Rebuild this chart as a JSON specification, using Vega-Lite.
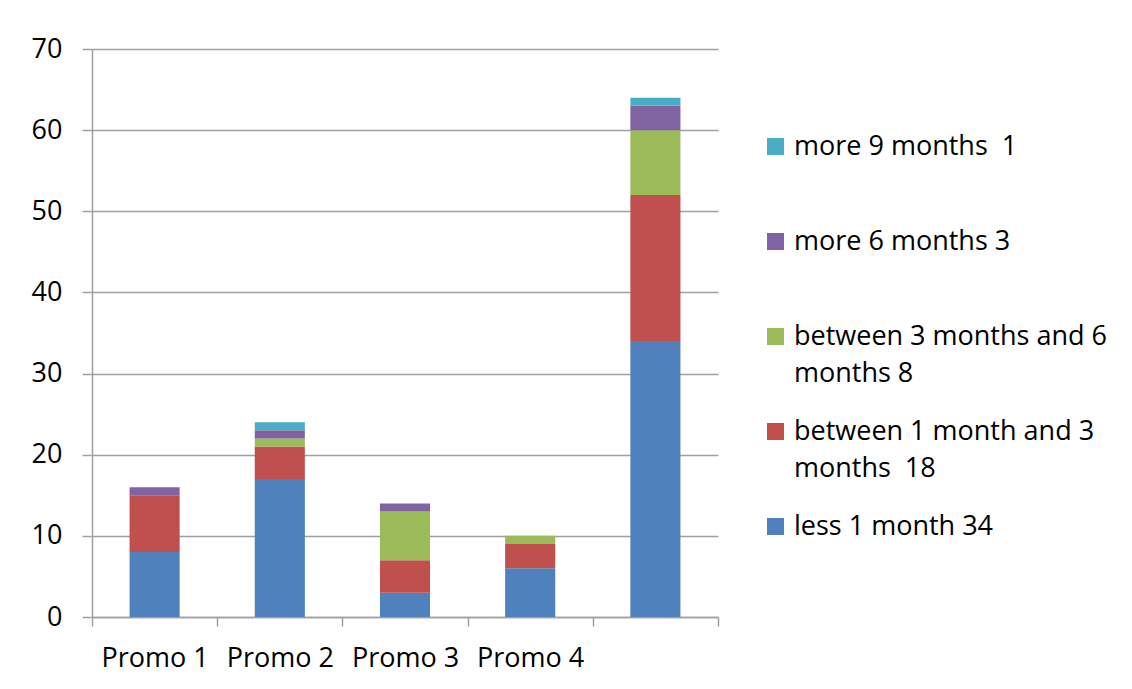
{
  "$schema": "https://vega.github.io/schema/vega-lite/v6.json",
  "autosize": {"type": "none"},
  "padding": {"left": 92, "top": 49, "right": 414, "bottom": 72},
  "width": 626,
  "height": 568,
  "background": "white",
  "config": {
    "font": "Open Sans",
    "view": {"stroke": null},
    "axis": {"labelFont": "Open Sans", "labelColor": "#000000", "labelFontSize": 27}
  },
  "data": {
    "values": [
      {"promo": "Promo 1", "series": "less 1 month 34", "value": 8},
      {"promo": "Promo 1", "series": "between 1 month and 3 months  18", "value": 7},
      {"promo": "Promo 1", "series": "between 3 months and 6 months 8", "value": 0},
      {"promo": "Promo 1", "series": "more 6 months 3", "value": 1},
      {"promo": "Promo 1", "series": "more 9 months  1", "value": 0},
      {"promo": "Promo 2", "series": "less 1 month 34", "value": 17},
      {"promo": "Promo 2", "series": "between 1 month and 3 months  18", "value": 4},
      {"promo": "Promo 2", "series": "between 3 months and 6 months 8", "value": 1},
      {"promo": "Promo 2", "series": "more 6 months 3", "value": 1},
      {"promo": "Promo 2", "series": "more 9 months  1", "value": 1},
      {"promo": "Promo 3", "series": "less 1 month 34", "value": 3},
      {"promo": "Promo 3", "series": "between 1 month and 3 months  18", "value": 4},
      {"promo": "Promo 3", "series": "between 3 months and 6 months 8", "value": 6},
      {"promo": "Promo 3", "series": "more 6 months 3", "value": 1},
      {"promo": "Promo 3", "series": "more 9 months  1", "value": 0},
      {"promo": "Promo 4", "series": "less 1 month 34", "value": 6},
      {"promo": "Promo 4", "series": "between 1 month and 3 months  18", "value": 3},
      {"promo": "Promo 4", "series": "between 3 months and 6 months 8", "value": 1},
      {"promo": "Promo 4", "series": "more 6 months 3", "value": 0},
      {"promo": "Promo 4", "series": "more 9 months  1", "value": 0},
      {"promo": "Total", "series": "less 1 month 34", "value": 34},
      {"promo": "Total", "series": "between 1 month and 3 months  18", "value": 18},
      {"promo": "Total", "series": "between 3 months and 6 months 8", "value": 8},
      {"promo": "Total", "series": "more 6 months 3", "value": 3},
      {"promo": "Total", "series": "more 9 months  1", "value": 1}
    ]
  },
  "transform": [
    {"calculate": "indexof(['less 1 month 34', 'between 1 month and 3 months  18', 'between 3 months and 6 months 8', 'more 6 months 3', 'more 9 months  1'], datum.series)", "as": "stackOrder"}
  ],
  "mark": {"type": "bar", "width": {"band": 0.4}},
  "encoding": {
    "x": {
      "field": "promo",
      "type": "nominal",
      "sort": ["Promo 1", "Promo 2", "Promo 3", "Promo 4", "Total"],
      "scale": {"paddingInner": 0, "paddingOuter": 0},
      "axis": {
        "title": null,
        "labelAngle": 0,
        "labelExpr": "datum.value == 'Total' ? '' : datum.value",
        "domainColor": "#a0a0a0",
        "domainWidth": 1.5,
        "tickColor": "#a0a0a0",
        "tickWidth": 1.5,
        "tickSize": 9,
        "tickBand": "extent",
        "labelPadding": 19,
        "grid": false
      }
    },
    "y": {
      "field": "value",
      "type": "quantitative",
      "stack": "zero",
      "scale": {"domain": [0, 70], "nice": false},
      "axis": {
        "title": null,
        "values": [0, 10, 20, 30, 40, 50, 60, 70],
        "grid": true,
        "gridColor": "#a0a0a0",
        "gridWidth": 1.5,
        "domainColor": "#a0a0a0",
        "domainWidth": 1.5,
        "tickColor": "#a0a0a0",
        "tickWidth": 1.5,
        "tickSize": 10,
        "labelPadding": 20
      }
    },
    "order": {"field": "stackOrder", "type": "quantitative", "sort": "ascending"},
    "color": {
      "field": "series",
      "type": "nominal",
      "scale": {
        "domain": ["less 1 month 34", "between 1 month and 3 months  18", "between 3 months and 6 months 8", "more 6 months 3", "more 9 months  1"],
        "range": ["#4F81BD", "#C0504D", "#9BBB59", "#8064A2", "#4BACC6"]
      },
      "legend": {
        "title": null,
        "orient": "none",
        "legendX": 670,
        "legendY": 84,
        "padding": 0,
        "values": ["more 9 months  1", "more 6 months 3", "between 3 months and 6 months 8", "between 1 month and 3 months  18", "less 1 month 34"],
        "symbolType": "square",
        "symbolSize": 289,
        "symbolStrokeWidth": 0,
        "labelFont": "Open Sans",
        "labelFontSize": 27,
        "labelColor": "#000000",
        "labelLimit": 500,
        "labelOffset": 5,
        "labelBaseline": "alphabetic",
        "gridAlign": "all",
        "rowPadding": 30,
        "labelExpr": "datum.label == 'between 3 months and 6 months 8' ? ['between 3 months and 6', 'months 8'] : datum.label == 'between 1 month and 3 months  18' ? ['between 1 month and 3', 'months \u00a018'] : replace(datum.label, '  ', ' \u00a0')",
        "encode": {
          "labels": {"update": {"dy": {"value": 8}, "lineHeight": {"value": 37}}}
        }
      }
    }
  }
}
